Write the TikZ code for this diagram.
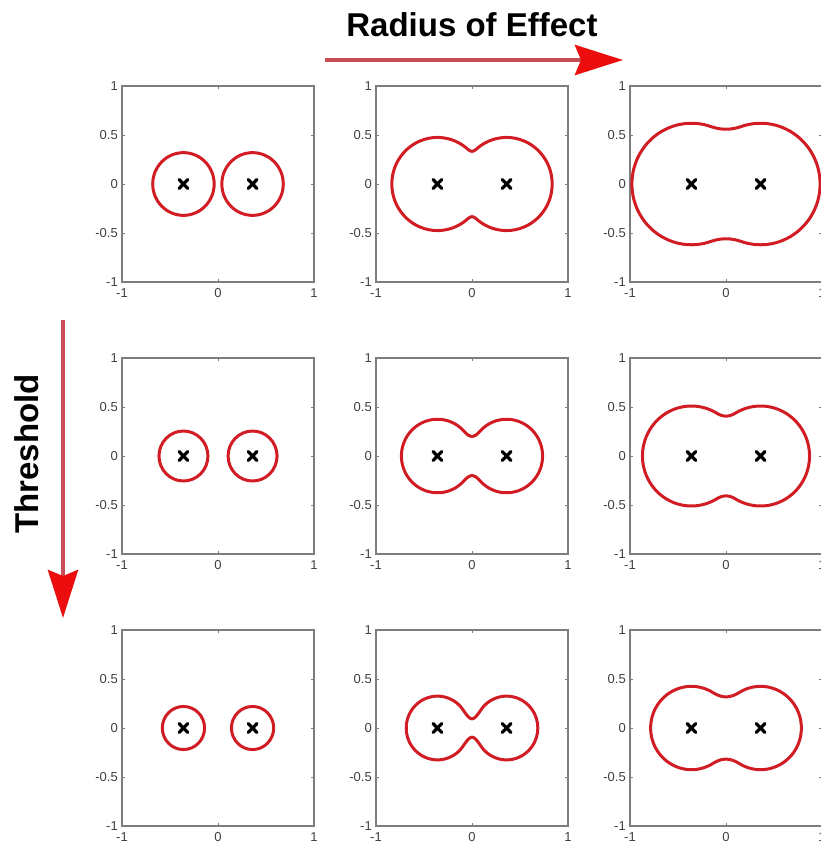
\documentclass[tikz,border=0pt]{standalone}
\usepackage{fontspec}
\setmainfont{Liberation Sans}
\usetikzlibrary{arrows.meta}
\definecolor{lvl}{RGB}{210,28,36}
\definecolor{shaft}{RGB}{198,78,84}
\definecolor{tipred}{RGB}{236,14,14}
\definecolor{axcol}{RGB}{125,125,125}
% half height of the merged level curve at abscissa #1 (lobe radius #2, blend #3)
\pgfmathdeclarefunction{lobe}{3}{%
  \begingroup
  \pgfmathparse{sqrt(max(0,(#2)*(#2)-(abs(#1)-0.36)*(abs(#1)-0.36)+0.25*(#3)*max(0,1-1.44*abs(#1)/(#3))*max(0,1-1.44*abs(#1)/(#3))))}%
  \pgfmathsmuggle\pgfmathresult
  \endgroup}
\tikzset{
  frame/.style={draw=axcol, line width=1.2pt},
  tickmark/.style={draw=axcol, line width=0.9pt},
  ticklab/.style={font=\fontsize{13}{13}\selectfont, text=black!75, inner sep=0pt},
  level/.style={draw=lvl, line width=3pt, line join=round},
  cross/.style={line width=3.2pt, line cap=round},
  bigarrow/.style={draw=shaft, line width=4.5pt, -{Stealth[length=48pt, width=30pt, inset=6pt, color=tipred]}},
  heading/.style={font=\fontsize{33}{36}\bfseries\selectfont, inner sep=0pt},
}

\begin{document}
\begin{tikzpicture}[x=1pt, y=1pt]
  \useasboundingbox (0,0) rectangle (821,-846);

  % axes of the 3x3 grid
  \foreach \c in {0,1,2}{
    \foreach \r in {0,1,2}{
      \begin{scope}[shift={(218+254*\c,-184-272*\r)}, x=96pt, y=98pt]
        \draw[frame] (-1,-1) rectangle (1,1);
        \foreach \v in {-1,-0.5,0,0.5,1}
          \draw[tickmark] (-1,\v) -- ++(0.03,0) (1,\v) -- ++(-0.03,0);
        \foreach \u in {-1,0,1}
          \draw[tickmark] (\u,-1) -- ++(0,0.03) (\u,1) -- ++(0,-0.03);
        \foreach \v [count=\i] in {1,0.5,0,-0.5,-1}
          \node[ticklab, anchor=east] (ylab\c\r\i) at ([xshift=-4pt]-1,\v) {\v};
        \foreach \u [count=\i] in {-1,0,1}
          \node[ticklab, anchor=north] (xlab\c\r\i) at ([yshift=-6pt]\u,-1) {\u};
        \foreach \p in {-0.36,0.36}
          \draw[cross] ({\p-0.045},-0.045) -- ({\p+0.045},0.045)
                       ({\p-0.045},0.045) -- ({\p+0.045},-0.045);
      \end{scope}}}

  % small radius: two separate circles
  \foreach \r/\R in {0/0.32,1/0.255,2/0.22}{
    \begin{scope}[shift={(218,-184-272*\r)}, x=96pt, y=98pt]
      \draw[level] (-0.36,0) circle[radius=\R] (0.36,0) circle[radius=\R];
    \end{scope}}

  % larger radius: merged curves
  \foreach \c/\r/\R/\K in {1/0/0.475/0.0596, 2/0/0.62/0.231,
                           1/1/0.375/0.116, 2/1/0.51/0.1404,
                           1/2/0.325/0.1307, 2/2/0.425/0.2004}{
    \begin{scope}[shift={(218+254*\c,-184-272*\r)}, x=96pt, y=98pt]
      \draw[level] plot[domain=0:360, samples=241]
        ({(0.36+\R)*cos(\x)}, {ifthenelse(sin(\x)<0,-1,1)*lobe((0.36+\R)*cos(\x),\R,\K)}) -- cycle;
    \end{scope}}

  % headings and arrows
  \node[heading, anchor=base] (radius) at (472,-36) {Radius of Effect};
  \node[heading, anchor=base, rotate=90] (thresh) at (38,-454) {Threshold};
  \coordinate (rstart) at (325,-60);
  \coordinate (rend) at (623,-60);
  \coordinate (tstart) at (63,-320);
  \coordinate (tend) at (63,-618);
  \draw[bigarrow] (rstart) -- (rend);
  \draw[bigarrow] (tstart) -- (tend);
\end{tikzpicture}
\end{document}
